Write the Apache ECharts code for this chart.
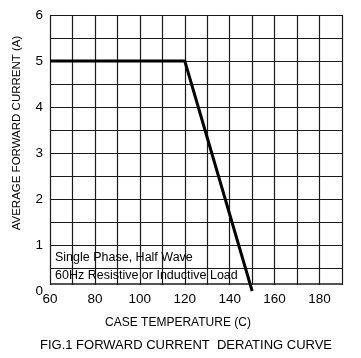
<!DOCTYPE html>
<html><head><meta charset="utf-8">
<script src="https://cdn.jsdelivr.net/npm/echarts@6/dist/echarts.min.js"></script>
<style>html,body{margin:0;padding:0;background:#fff}#c{width:361px;height:358px}</style>
</head><body><div id="c"></div>
<script>
// Data
const curveTemps = [60, 120, 150];          // case temperature (C)
const curveCurrents = [5, 5, 0];            // average forward current (A)
const xRange = [60, 190];
const yRange = [0, 6];
const xLabelValues = [60, 80, 100, 120, 140, 160, 180];
const yLabelValues = [0, 1, 2, 3, 4, 5, 6];
const frameBottomValue = 0.15;
const noteLines = ['Single Phase, Half Wave', '60Hz Resistive or Inductive Load'];
const xTitle = 'CASE TEMPERATURE (C)';
const yTitle = 'AVERAGE FORWARD CURRENT (A)';
const figTitle = 'FIG.1 FORWARD CURRENT  DERATING CURVE';

const FONT = '"Liberation Sans", Arial, sans-serif';
const GRID_COLOR = '#1a1a1a';

const chart = echarts.init(document.getElementById('c'), null, {renderer: 'canvas'});
const seriesData = curveTemps.map((t, i) => [t, curveCurrents[i]]);

chart.setOption({
  animation: false,
  backgroundColor: '#fff',
  grid: {left: 50, right: 19, top: 15, bottom: 67},
  xAxis: {
    type: 'value', min: xRange[0], max: xRange[1], interval: 10,
    axisLine: {show: false}, axisTick: {show: false},
    splitLine: {show: true, lineStyle: {color: GRID_COLOR, width: 1.2}},
    axisLabel: {
      margin: 1, fontFamily: FONT, fontSize: 13.5, color: '#000',
      formatter: v => xLabelValues.includes(v) ? String(v) : ''
    }
  },
  yAxis: {
    type: 'value', min: yRange[0], max: yRange[1], interval: 0.5,
    axisLine: {show: false}, axisTick: {show: false},
    splitLine: {show: true, lineStyle: {color: GRID_COLOR, width: 1.2}},
    axisLabel: {
      margin: 7, fontFamily: FONT, fontSize: 13.5, color: '#000',
      formatter: v => yLabelValues.includes(v) ? String(v) : ''
    }
  },
  series: [{
    type: 'line', data: seriesData, symbol: 'none',
    lineStyle: {color: '#000', width: 3},
    markLine: {
      silent: true, symbol: 'none', label: {show: false},
      lineStyle: {color: GRID_COLOR, width: 1.5, type: 'solid'},
      data: [{yAxis: frameBottomValue}]
    }
  }]
});

const pTopLeft = chart.convertToPixel({gridIndex: 0}, [xRange[0], frameBottomValue]);
const pBotRight = chart.convertToPixel({gridIndex: 0}, [xRange[1], yRange[0]]);
const plotMidX = (pTopLeft[0] + pBotRight[0]) / 2;

chart.setOption({
  graphic: [
    {
      type: 'rect', z: 3, silent: true,
      shape: {x: pTopLeft[0] - 2, y: pTopLeft[1] + 1, width: pBotRight[0] - pTopLeft[0] + 4, height: pBotRight[1] - pTopLeft[1] + 2},
      style: {fill: '#fff'}
    },
    {
      type: 'text', z: 4, left: pTopLeft[0] + 5, top: pTopLeft[1] - 33,
      style: {text: noteLines[0], font: '12.5px ' + FONT, fill: '#000'}
    },
    {
      type: 'text', z: 4, left: pTopLeft[0] + 5, top: pTopLeft[1] - 15,
      style: {text: noteLines[1], font: '12.5px ' + FONT, fill: '#000'}
    },
    {
      type: 'text', z: 4, x: plotMidX - 18, y: 323,
      style: {text: xTitle, font: '12px ' + FONT, fill: '#000', align: 'center', verticalAlign: 'middle'}
    },
    {
      type: 'text', z: 4, x: 186, y: 345,
      style: {text: figTitle, font: '13px ' + FONT, fill: '#000', align: 'center', verticalAlign: 'middle'}
    },
    {
      type: 'text', z: 4, x: 17, y: 133, rotation: Math.PI / 2,
      style: {text: yTitle, font: '11.5px ' + FONT, fill: '#000', align: 'center', verticalAlign: 'middle'}
    }
  ]
});
</script>
</body></html>
